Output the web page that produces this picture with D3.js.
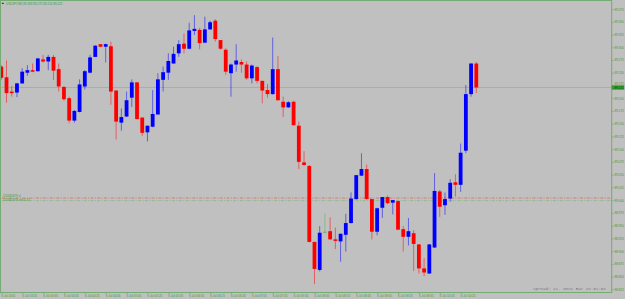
<!DOCTYPE html>
<html>
  <head>
    <meta charset="utf-8">
    <title>USDJPY,M5</title>
    <script src="https://d3js.org/d3.v7.min.js"></script>
    <style>
      body { margin: 0; background: #c0c0c0; }
      svg { display: block; font-family: "Liberation Sans", Arial, sans-serif; }
      .axis path { display: none; }
      .axis line { stroke: #74ac74; stroke-width: 0.8; }
      .axis text { fill: #3f993f; font-size: 3.1px; }
    </style>
  </head>
  <body>
    <svg id="chart" width="625" height="299"></svg>
    <script>
      // bars, oldest first
      const open = [89.262, 89.241, 89.213, 89.211, 89.229, 89.250, 89.255, 89.253, 89.276, 89.272,
        89.281, 89.257, 89.222, 89.200, 89.156, 89.173, 89.223, 89.250, 89.281, 89.306,
        89.301, 89.302, 89.215, 89.152, 89.164, 89.201, 89.231, 89.162, 89.133, 89.144,
        89.168, 89.236, 89.250, 89.268, 89.288, 89.307, 89.297, 89.332, 89.334, 89.309,
        89.335, 89.352, 89.314, 89.295, 89.249, 89.266, 89.271, 89.266, 89.239, 89.261,
        89.234, 89.216, 89.208, 89.257, 89.193, 89.182, 89.193, 89.146, 89.074, 89.067,
        88.918, 88.863, 88.937, 88.939, 88.923, 88.919, 88.932, 88.955, 89.002, 89.048,
        89.061, 89.002, 88.938, 88.985, 89.006, 88.995, 88.998, 88.943, 88.928, 88.935,
        88.913, 88.866, 88.856, 88.907, 89.017, 88.990, 89.003, 89.035, 89.030, 89.097,
        89.208, 89.268];
      const high = [89.265, 89.274, 89.224, 89.230, 89.259, 89.265, 89.268, 89.279, 89.285, 89.285,
        89.285, 89.268, 89.224, 89.203, 89.177, 89.237, 89.255, 89.285, 89.304, 89.306,
        89.307, 89.311, 89.215, 89.180, 89.213, 89.237, 89.232, 89.162, 89.146, 89.216,
        89.249, 89.262, 89.288, 89.301, 89.314, 89.327, 89.348, 89.363, 89.338, 89.360,
        89.352, 89.355, 89.314, 89.298, 89.268, 89.306, 89.276, 89.272, 89.266, 89.263,
        89.234, 89.228, 89.319, 89.283, 89.203, 89.194, 89.195, 89.154, 89.096, 89.069,
        88.918, 88.949, 88.974, 88.966, 88.946, 88.934, 88.973, 89.015, 89.049, 89.092,
        89.070, 89.002, 88.985, 89.006, 89.009, 89.000, 88.999, 88.949, 88.965, 88.941,
        88.914, 88.886, 88.914, 89.053, 89.020, 89.015, 89.041, 89.051, 89.111, 89.226,
        89.269, 89.271];
      const low = [89.236, 89.191, 89.203, 89.202, 89.228, 89.244, 89.251, 89.252, 89.270, 89.255,
        89.236, 89.213, 89.195, 89.151, 89.152, 89.172, 89.217, 89.249, 89.281, 89.300,
        89.270, 89.187, 89.119, 89.136, 89.163, 89.183, 89.158, 89.126, 89.115, 89.143,
        89.168, 89.213, 89.236, 89.268, 89.281, 89.288, 89.296, 89.324, 89.296, 89.308,
        89.334, 89.311, 89.295, 89.246, 89.203, 89.252, 89.250, 89.236, 89.229, 89.229,
        89.190, 89.201, 89.207, 89.195, 89.163, 89.181, 89.146, 89.061, 89.068, 88.917,
        88.835, 88.860, 88.935, 88.922, 88.904, 88.879, 88.899, 88.954, 89.001, 89.047,
        89.001, 88.923, 88.931, 88.965, 88.992, 88.972, 88.941, 88.899, 88.911, 88.861,
        88.856, 88.851, 88.855, 88.906, 88.967, 88.971, 88.997, 89.007, 89.016, 89.092,
        89.203, 89.210];
      const close = [89.240, 89.210, 89.210, 89.229, 89.252, 89.255, 89.252, 89.278, 89.272, 89.281,
        89.254, 89.223, 89.198, 89.156, 89.175, 89.227, 89.253, 89.280, 89.303, 89.301,
        89.306, 89.213, 89.154, 89.163, 89.196, 89.231, 89.159, 89.132, 89.146, 89.169,
        89.237, 89.251, 89.273, 89.287, 89.306, 89.297, 89.333, 89.336, 89.308, 89.335,
        89.349, 89.316, 89.297, 89.252, 89.266, 89.274, 89.266, 89.239, 89.264, 89.234,
        89.215, 89.208, 89.257, 89.196, 89.182, 89.192, 89.147, 89.075, 89.069, 88.918,
        88.865, 88.936, 88.937, 88.923, 88.920, 88.934, 88.955, 89.003, 89.049, 89.061,
        89.002, 88.938, 88.984, 89.006, 88.994, 89.000, 88.942, 88.928, 88.939, 88.914,
        88.866, 88.858, 88.913, 89.018, 88.987, 89.002, 89.034, 89.030, 89.093, 89.208,
        89.268, 89.221];
      // one label every 4 bars
      const timeLabels = ["6 Jul 2010", "6 Jul 03:25", "6 Jul 03:45", "6 Jul 04:05", "6 Jul 04:25",
        "6 Jul 04:45", "6 Jul 05:05", "6 Jul 05:25", "6 Jul 05:45", "6 Jul 06:05", "6 Jul 06:25",
        "6 Jul 06:45", "6 Jul 07:05", "6 Jul 07:25", "6 Jul 07:45", "6 Jul 08:05", "6 Jul 08:25",
        "6 Jul 08:45", "6 Jul 09:05", "6 Jul 09:25", "6 Jul 09:45", "6 Jul 10:05", "6 Jul 10:25"];
      const priceTicks = [89.375, 89.350, 89.325, 89.300, 89.275, 89.250, 89.225, 89.200, 89.175,
        89.150, 89.125, 89.100, 89.075, 89.050, 89.025, 89.000, 88.975, 88.950, 88.925, 88.900,
        88.875, 88.850, 88.825];
      // order levels: stop line, open line
      const orderLevels = [89.004, 88.999];
      const orderTexts = ["#20345678 sl", "#20345678 sell 0.10"];
      const symbol = "USDJPY,M5";
      const statusText = "Spread: 11. Next Bar in 01:04";

      const chart = d3.select("#chart");
      const plot = { left: 0.5, right: 611.7, top: 0.5, bottom: 292.5 };
      const frameColour = "#74ac74";
      const textColour = "#3f993f";

      chart.append("rect")
        .attr("width", 625).attr("height", 299)
        .attr("fill", "#c0c0c0");

      const x = d3.scaleLinear().domain([0, 91]).range([1.3, 476.3]);
      const y = d3.scaleLinear().domain([88.825, 89.375]).range([289.3, 9]);
      const fmt = d3.format(".3f");

      chart.append("clipPath").attr("id", "plotClip")
        .append("rect")
          .attr("x", plot.left).attr("y", plot.top)
          .attr("width", plot.right - plot.left).attr("height", plot.bottom - plot.top);

      const plotGroup = chart.append("g").attr("clip-path", "url(#plotClip)");

      // order lines
      const orderColours = ["#e26262", "#84b884"];
      plotGroup.selectAll(".order")
        .data(orderLevels)
        .enter().append("line")
          .attr("x1", 2).attr("x2", plot.right)
          .attr("y1", function(d) { return y(d); })
          .attr("y2", function(d) { return y(d); })
          .attr("stroke", function(d, i) { return orderColours[i]; })
          .attr("stroke-width", 0.8)
          .attr("stroke-dasharray", "3,1.4,1,1.4");

      // bid line
      const last = close.length - 1;
      const bidY = y(close[last]);
      plotGroup.append("line")
        .attr("x1", plot.left).attr("x2", plot.right)
        .attr("y1", bidY).attr("y2", bidY)
        .attr("stroke", "#a0a6b2").attr("stroke-width", 0.8);

      // candles
      const bars = d3.range(open.length).map(function(i) {
        return { i: i, o: open[i], h: high[i], l: low[i], c: close[i] };
      });
      function colour(d) {
        if (d.c > d.o) return "#0000ff";
        if (d.c < d.o) return "#ff0000";
        return "#5caf5c";
      }
      const candles = plotGroup.selectAll(".candle")
        .data(bars)
        .enter().append("g")
          .classed("candle", true);
      candles.append("line")
        .attr("x1", function(d) { return x(d.i); })
        .attr("x2", function(d) { return x(d.i); })
        .attr("y1", function(d) { return y(d.h); })
        .attr("y2", function(d) { return y(d.l); })
        .attr("stroke", colour)
        .attr("stroke-opacity", 0.5)
        .attr("stroke-width", 1);
      candles.filter(function(d) { return d.o !== d.c; })
        .append("rect")
          .attr("x", function(d) { return x(d.i) - 1.9; })
          .attr("width", 3.8)
          .attr("y", function(d) { return y(Math.max(d.o, d.c)); })
          .attr("height", function(d) { return Math.max(1, Math.abs(y(d.o) - y(d.c))); })
          .attr("fill", colour);
      candles.filter(function(d) { return d.o === d.c; })
        .append("line")
          .attr("x1", function(d) { return x(d.i) - 1.9; })
          .attr("x2", function(d) { return x(d.i) + 1.9; })
          .attr("y1", function(d) { return y(d.o); })
          .attr("y2", function(d) { return y(d.o); })
          .attr("stroke", colour)
          .attr("stroke-width", 0.8);

      // order texts
      chart.selectAll(".orderText")
        .data(orderTexts)
        .enter().append("text")
          .attr("x", 2.7)
          .attr("y", function(d, i) { return y(orderLevels[i]) - 1.2 + i * 1.6; })
          .attr("fill", textColour)
          .style("font-size", "3px")
          .text(function(d) { return d; });

      // frame
      chart.append("rect")
        .attr("x", plot.left).attr("y", plot.top)
        .attr("width", plot.right - plot.left).attr("height", plot.bottom - plot.top)
        .attr("fill", "none")
        .attr("stroke", frameColour).attr("stroke-width", 1);

      // price axis
      const yAxis = d3.axisRight(y)
        .tickValues(priceTicks)
        .tickFormat(fmt)
        .tickSize(2)
        .tickPadding(0.8);
      const yAxisGroup = chart.append("g")
        .classed("axis", true)
        .attr("transform", "translate(" + plot.right + ", 0)")
        .call(yAxis);
      // the label sitting right under the bid box is nudged up
      yAxisGroup.selectAll(".tick text")
        .filter(function(d) { return Math.abs(y(d) - bidY) < 4; })
        .attr("y", function(d) { return y(d) < bidY ? -1.4 : 1.4; })
        .attr("dy", function(d) { return y(d) < bidY ? "0" : "0.7em"; });

      // time axis
      const xAxis = d3.axisBottom(x)
        .tickValues(timeLabels.map(function(d, k) { return k * 4; }))
        .tickFormat(function(d) { return timeLabels[d / 4]; })
        .tickSize(1.6);
      const xAxisGroup = chart.append("g")
        .classed("axis", true)
        .attr("transform", "translate(0, " + plot.bottom + ")")
        .call(xAxis);
      xAxisGroup.selectAll("text")
        .attr("text-anchor", "start")
        .attr("x", -0.4)
        .attr("y", 2.6)
        .style("font-size", "3px");

      // bid price label
      chart.append("rect")
        .attr("x", plot.right).attr("y", bidY - 2.1)
        .attr("width", 12.5).attr("height", 4.3)
        .attr("fill", "#2f9f2f");
      chart.append("text")
        .attr("x", plot.right + 2.8).attr("y", bidY + 1.1)
        .attr("fill", "#123f12")
        .style("font-size", "3.1px")
        .text(fmt(close[last]));

      // title
      chart.append("rect")
        .attr("x", 1.8).attr("y", 2.8).attr("width", 2).attr("height", 1.2)
        .attr("fill", "#2a4a2a");
      chart.append("text")
        .attr("x", 6).attr("y", 4.6)
        .attr("fill", textColour)
        .style("font-size", "3px")
        .text(symbol + " " + [open[last], high[last], low[last], close[last]].map(fmt).join(" "));

      // status text
      chart.append("text")
        .attr("x", 533).attr("y", 290.3)
        .attr("fill", "#7a7a7a")
        .style("font-family", "'Liberation Mono', monospace")
        .style("font-size", "4.2px")
        .text(statusText);
    </script>
  </body>
</html>
